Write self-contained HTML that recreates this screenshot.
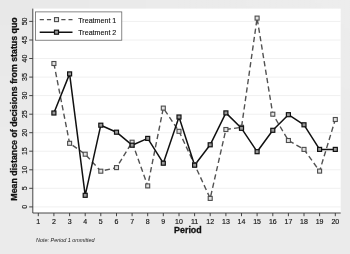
<!DOCTYPE html><html><head><meta charset="utf-8"><title>Chart</title><style>html,body{margin:0;padding:0;background:#ebebeb;}svg{display:block;filter:blur(0.35px)}text{font-family:"Liberation Sans",Arial,sans-serif;}</style></head><body>
<svg width="350" height="254" viewBox="0 0 350 254">
<defs><linearGradient id="gh" x1="0" y1="0" x2="1" y2="0"><stop offset="0" stop-color="#000" stop-opacity="0.012"/><stop offset="0.5" stop-color="#000" stop-opacity="0"/><stop offset="0.5" stop-color="#fff" stop-opacity="0"/><stop offset="1" stop-color="#fff" stop-opacity="0.12"/></linearGradient><linearGradient id="gv" x1="0" y1="0" x2="0" y2="1"><stop offset="0" stop-color="#fff"/><stop offset="0.6" stop-color="#000"/></linearGradient><mask id="mk"><rect x="0" y="0" width="350" height="254" fill="url(#gv)"/></mask></defs>
<rect x="0" y="0" width="350" height="254" fill="#ebebeb"/>
<rect x="0" y="0" width="350" height="254" fill="url(#gh)" mask="url(#mk)"/>
<rect x="32.8" y="8.6" width="307.9" height="204.4" fill="#ffffff"/>
<line x1="32.8" x2="340.7" y1="206.9" y2="206.9" stroke="#f0f0f0" stroke-width="1"/>
<line x1="32.8" x2="340.7" y1="188.3" y2="188.3" stroke="#f0f0f0" stroke-width="1"/>
<line x1="32.8" x2="340.7" y1="169.8" y2="169.8" stroke="#f0f0f0" stroke-width="1"/>
<line x1="32.8" x2="340.7" y1="151.2" y2="151.2" stroke="#f0f0f0" stroke-width="1"/>
<line x1="32.8" x2="340.7" y1="132.7" y2="132.7" stroke="#f0f0f0" stroke-width="1"/>
<line x1="32.8" x2="340.7" y1="114.2" y2="114.2" stroke="#f0f0f0" stroke-width="1"/>
<line x1="32.8" x2="340.7" y1="95.6" y2="95.6" stroke="#f0f0f0" stroke-width="1"/>
<line x1="32.8" x2="340.7" y1="77.1" y2="77.1" stroke="#f0f0f0" stroke-width="1"/>
<line x1="32.8" x2="340.7" y1="58.5" y2="58.5" stroke="#f0f0f0" stroke-width="1"/>
<line x1="32.8" x2="340.7" y1="40.0" y2="40.0" stroke="#f0f0f0" stroke-width="1"/>
<line x1="32.8" x2="340.7" y1="21.4" y2="21.4" stroke="#f0f0f0" stroke-width="1"/>
<line x1="32.8" x2="32.8" y1="8.6" y2="213.0" stroke="#333" stroke-width="0.9"/>
<line x1="32.8" x2="340.7" y1="213.0" y2="213.0" stroke="#333" stroke-width="0.9"/>
<line x1="29.199999999999996" x2="32.8" y1="206.9" y2="206.9" stroke="#333" stroke-width="0.9"/>
<text transform="translate(26.5,206.9) rotate(-90)" text-anchor="middle" font-size="7" fill="#111" stroke="#111" stroke-width="0.15">0</text>
<line x1="29.199999999999996" x2="32.8" y1="188.3" y2="188.3" stroke="#333" stroke-width="0.9"/>
<text transform="translate(26.5,188.3) rotate(-90)" text-anchor="middle" font-size="7" fill="#111" stroke="#111" stroke-width="0.15">5</text>
<line x1="29.199999999999996" x2="32.8" y1="169.8" y2="169.8" stroke="#333" stroke-width="0.9"/>
<text transform="translate(26.5,169.8) rotate(-90)" text-anchor="middle" font-size="7" fill="#111" stroke="#111" stroke-width="0.15">10</text>
<line x1="29.199999999999996" x2="32.8" y1="151.2" y2="151.2" stroke="#333" stroke-width="0.9"/>
<text transform="translate(26.5,151.2) rotate(-90)" text-anchor="middle" font-size="7" fill="#111" stroke="#111" stroke-width="0.15">15</text>
<line x1="29.199999999999996" x2="32.8" y1="132.7" y2="132.7" stroke="#333" stroke-width="0.9"/>
<text transform="translate(26.5,132.7) rotate(-90)" text-anchor="middle" font-size="7" fill="#111" stroke="#111" stroke-width="0.15">20</text>
<line x1="29.199999999999996" x2="32.8" y1="114.2" y2="114.2" stroke="#333" stroke-width="0.9"/>
<text transform="translate(26.5,114.2) rotate(-90)" text-anchor="middle" font-size="7" fill="#111" stroke="#111" stroke-width="0.15">25</text>
<line x1="29.199999999999996" x2="32.8" y1="95.6" y2="95.6" stroke="#333" stroke-width="0.9"/>
<text transform="translate(26.5,95.6) rotate(-90)" text-anchor="middle" font-size="7" fill="#111" stroke="#111" stroke-width="0.15">30</text>
<line x1="29.199999999999996" x2="32.8" y1="77.1" y2="77.1" stroke="#333" stroke-width="0.9"/>
<text transform="translate(26.5,77.1) rotate(-90)" text-anchor="middle" font-size="7" fill="#111" stroke="#111" stroke-width="0.15">35</text>
<line x1="29.199999999999996" x2="32.8" y1="58.5" y2="58.5" stroke="#333" stroke-width="0.9"/>
<text transform="translate(26.5,58.5) rotate(-90)" text-anchor="middle" font-size="7" fill="#111" stroke="#111" stroke-width="0.15">40</text>
<line x1="29.199999999999996" x2="32.8" y1="40.0" y2="40.0" stroke="#333" stroke-width="0.9"/>
<text transform="translate(26.5,40.0) rotate(-90)" text-anchor="middle" font-size="7" fill="#111" stroke="#111" stroke-width="0.15">45</text>
<line x1="29.199999999999996" x2="32.8" y1="21.4" y2="21.4" stroke="#333" stroke-width="0.9"/>
<text transform="translate(26.5,21.4) rotate(-90)" text-anchor="middle" font-size="7" fill="#111" stroke="#111" stroke-width="0.15">50</text>
<line x1="38.3" x2="38.3" y1="213.0" y2="216.2" stroke="#333" stroke-width="0.9"/>
<text x="38.3" y="224.4" text-anchor="middle" font-size="7" fill="#111" stroke="#111" stroke-width="0.15">1</text>
<line x1="53.9" x2="53.9" y1="213.0" y2="216.2" stroke="#333" stroke-width="0.9"/>
<text x="53.9" y="224.4" text-anchor="middle" font-size="7" fill="#111" stroke="#111" stroke-width="0.15">2</text>
<line x1="69.6" x2="69.6" y1="213.0" y2="216.2" stroke="#333" stroke-width="0.9"/>
<text x="69.6" y="224.4" text-anchor="middle" font-size="7" fill="#111" stroke="#111" stroke-width="0.15">3</text>
<line x1="85.2" x2="85.2" y1="213.0" y2="216.2" stroke="#333" stroke-width="0.9"/>
<text x="85.2" y="224.4" text-anchor="middle" font-size="7" fill="#111" stroke="#111" stroke-width="0.15">4</text>
<line x1="100.8" x2="100.8" y1="213.0" y2="216.2" stroke="#333" stroke-width="0.9"/>
<text x="100.8" y="224.4" text-anchor="middle" font-size="7" fill="#111" stroke="#111" stroke-width="0.15">5</text>
<line x1="116.5" x2="116.5" y1="213.0" y2="216.2" stroke="#333" stroke-width="0.9"/>
<text x="116.5" y="224.4" text-anchor="middle" font-size="7" fill="#111" stroke="#111" stroke-width="0.15">6</text>
<line x1="132.1" x2="132.1" y1="213.0" y2="216.2" stroke="#333" stroke-width="0.9"/>
<text x="132.1" y="224.4" text-anchor="middle" font-size="7" fill="#111" stroke="#111" stroke-width="0.15">7</text>
<line x1="147.7" x2="147.7" y1="213.0" y2="216.2" stroke="#333" stroke-width="0.9"/>
<text x="147.7" y="224.4" text-anchor="middle" font-size="7" fill="#111" stroke="#111" stroke-width="0.15">8</text>
<line x1="163.3" x2="163.3" y1="213.0" y2="216.2" stroke="#333" stroke-width="0.9"/>
<text x="163.3" y="224.4" text-anchor="middle" font-size="7" fill="#111" stroke="#111" stroke-width="0.15">9</text>
<line x1="179.0" x2="179.0" y1="213.0" y2="216.2" stroke="#333" stroke-width="0.9"/>
<text x="179.0" y="224.4" text-anchor="middle" font-size="7" fill="#111" stroke="#111" stroke-width="0.15">10</text>
<line x1="194.6" x2="194.6" y1="213.0" y2="216.2" stroke="#333" stroke-width="0.9"/>
<text x="194.6" y="224.4" text-anchor="middle" font-size="7" fill="#111" stroke="#111" stroke-width="0.15">11</text>
<line x1="210.2" x2="210.2" y1="213.0" y2="216.2" stroke="#333" stroke-width="0.9"/>
<text x="210.2" y="224.4" text-anchor="middle" font-size="7" fill="#111" stroke="#111" stroke-width="0.15">12</text>
<line x1="225.9" x2="225.9" y1="213.0" y2="216.2" stroke="#333" stroke-width="0.9"/>
<text x="225.9" y="224.4" text-anchor="middle" font-size="7" fill="#111" stroke="#111" stroke-width="0.15">13</text>
<line x1="241.5" x2="241.5" y1="213.0" y2="216.2" stroke="#333" stroke-width="0.9"/>
<text x="241.5" y="224.4" text-anchor="middle" font-size="7" fill="#111" stroke="#111" stroke-width="0.15">14</text>
<line x1="257.1" x2="257.1" y1="213.0" y2="216.2" stroke="#333" stroke-width="0.9"/>
<text x="257.1" y="224.4" text-anchor="middle" font-size="7" fill="#111" stroke="#111" stroke-width="0.15">15</text>
<line x1="272.8" x2="272.8" y1="213.0" y2="216.2" stroke="#333" stroke-width="0.9"/>
<text x="272.8" y="224.4" text-anchor="middle" font-size="7" fill="#111" stroke="#111" stroke-width="0.15">16</text>
<line x1="288.4" x2="288.4" y1="213.0" y2="216.2" stroke="#333" stroke-width="0.9"/>
<text x="288.4" y="224.4" text-anchor="middle" font-size="7" fill="#111" stroke="#111" stroke-width="0.15">17</text>
<line x1="304.0" x2="304.0" y1="213.0" y2="216.2" stroke="#333" stroke-width="0.9"/>
<text x="304.0" y="224.4" text-anchor="middle" font-size="7" fill="#111" stroke="#111" stroke-width="0.15">18</text>
<line x1="319.6" x2="319.6" y1="213.0" y2="216.2" stroke="#333" stroke-width="0.9"/>
<text x="319.6" y="224.4" text-anchor="middle" font-size="7" fill="#111" stroke="#111" stroke-width="0.15">19</text>
<line x1="335.3" x2="335.3" y1="213.0" y2="216.2" stroke="#333" stroke-width="0.9"/>
<text x="335.3" y="224.4" text-anchor="middle" font-size="7" fill="#111" stroke="#111" stroke-width="0.15">20</text>
<text x="187.9" y="232.7" text-anchor="middle" font-size="8.9" font-weight="bold" fill="#111" stroke="#111" stroke-width="0.3">Period</text>
<text transform="translate(17.0,109) rotate(-90)" text-anchor="middle" font-size="8.8" font-weight="bold" fill="#111" stroke="#111" stroke-width="0.3">Mean distance of decisions from status quo</text>
<text x="36" y="242.3" font-size="5.45" font-style="italic" fill="#222">Note: Period 1 ommitted</text>
<polyline points="53.9,63.5 69.6,143.3 85.2,154.2 100.8,171.2 116.5,167.6 132.1,142.2 147.7,185.9 163.3,108.1 179.0,131.3 194.6,164.6 210.2,198.4 225.9,129.5 241.5,127.3 257.1,18.1 272.8,114.2 288.4,140.5 304.0,149.4 319.6,171.1 335.3,119.5" fill="none" stroke="#525252" stroke-width="1.4" stroke-dasharray="5.3 3.2"/>
<polyline points="53.9,113.0 69.6,73.9 85.2,195.3 100.8,125.2 116.5,132.2 132.1,145.2 147.7,138.4 163.3,163.2 179.0,117.0 194.6,165.2 210.2,144.8 225.9,112.9 241.5,128.3 257.1,151.7 272.8,130.3 288.4,114.7 304.0,124.8 319.6,149.4 335.3,149.4" fill="none" stroke="#111" stroke-width="1.5" stroke-linejoin="round"/>
<rect x="51.9" y="61.5" width="4.0" height="4.0" fill="#e2e2e2" stroke="#4c4c4c" stroke-width="1.1"/>
<rect x="67.6" y="141.3" width="4.0" height="4.0" fill="#e2e2e2" stroke="#4c4c4c" stroke-width="1.1"/>
<rect x="83.2" y="152.2" width="4.0" height="4.0" fill="#e2e2e2" stroke="#4c4c4c" stroke-width="1.1"/>
<rect x="98.8" y="169.2" width="4.0" height="4.0" fill="#e2e2e2" stroke="#4c4c4c" stroke-width="1.1"/>
<rect x="114.5" y="165.6" width="4.0" height="4.0" fill="#e2e2e2" stroke="#4c4c4c" stroke-width="1.1"/>
<rect x="130.1" y="140.2" width="4.0" height="4.0" fill="#e2e2e2" stroke="#4c4c4c" stroke-width="1.1"/>
<rect x="145.7" y="183.9" width="4.0" height="4.0" fill="#e2e2e2" stroke="#4c4c4c" stroke-width="1.1"/>
<rect x="161.3" y="106.1" width="4.0" height="4.0" fill="#e2e2e2" stroke="#4c4c4c" stroke-width="1.1"/>
<rect x="177.0" y="129.3" width="4.0" height="4.0" fill="#e2e2e2" stroke="#4c4c4c" stroke-width="1.1"/>
<rect x="192.6" y="162.6" width="4.0" height="4.0" fill="#e2e2e2" stroke="#4c4c4c" stroke-width="1.1"/>
<rect x="208.2" y="196.4" width="4.0" height="4.0" fill="#e2e2e2" stroke="#4c4c4c" stroke-width="1.1"/>
<rect x="223.9" y="127.5" width="4.0" height="4.0" fill="#e2e2e2" stroke="#4c4c4c" stroke-width="1.1"/>
<rect x="239.5" y="125.3" width="4.0" height="4.0" fill="#e2e2e2" stroke="#4c4c4c" stroke-width="1.1"/>
<rect x="255.1" y="16.1" width="4.0" height="4.0" fill="#e2e2e2" stroke="#4c4c4c" stroke-width="1.1"/>
<rect x="270.8" y="112.2" width="4.0" height="4.0" fill="#e2e2e2" stroke="#4c4c4c" stroke-width="1.1"/>
<rect x="286.4" y="138.5" width="4.0" height="4.0" fill="#e2e2e2" stroke="#4c4c4c" stroke-width="1.1"/>
<rect x="302.0" y="147.4" width="4.0" height="4.0" fill="#e2e2e2" stroke="#4c4c4c" stroke-width="1.1"/>
<rect x="317.6" y="169.1" width="4.0" height="4.0" fill="#e2e2e2" stroke="#4c4c4c" stroke-width="1.1"/>
<rect x="333.3" y="117.5" width="4.0" height="4.0" fill="#e2e2e2" stroke="#4c4c4c" stroke-width="1.1"/>
<rect x="51.9" y="111.0" width="4.0" height="4.0" fill="#9a9a9a" stroke="#111" stroke-width="1.2"/>
<rect x="67.6" y="71.9" width="4.0" height="4.0" fill="#9a9a9a" stroke="#111" stroke-width="1.2"/>
<rect x="83.2" y="193.3" width="4.0" height="4.0" fill="#9a9a9a" stroke="#111" stroke-width="1.2"/>
<rect x="98.8" y="123.2" width="4.0" height="4.0" fill="#9a9a9a" stroke="#111" stroke-width="1.2"/>
<rect x="114.5" y="130.2" width="4.0" height="4.0" fill="#9a9a9a" stroke="#111" stroke-width="1.2"/>
<rect x="130.1" y="143.2" width="4.0" height="4.0" fill="#9a9a9a" stroke="#111" stroke-width="1.2"/>
<rect x="145.7" y="136.4" width="4.0" height="4.0" fill="#9a9a9a" stroke="#111" stroke-width="1.2"/>
<rect x="161.3" y="161.2" width="4.0" height="4.0" fill="#9a9a9a" stroke="#111" stroke-width="1.2"/>
<rect x="177.0" y="115.0" width="4.0" height="4.0" fill="#9a9a9a" stroke="#111" stroke-width="1.2"/>
<rect x="192.6" y="163.2" width="4.0" height="4.0" fill="#9a9a9a" stroke="#111" stroke-width="1.2"/>
<rect x="208.2" y="142.8" width="4.0" height="4.0" fill="#9a9a9a" stroke="#111" stroke-width="1.2"/>
<rect x="223.9" y="110.9" width="4.0" height="4.0" fill="#9a9a9a" stroke="#111" stroke-width="1.2"/>
<rect x="239.5" y="126.3" width="4.0" height="4.0" fill="#9a9a9a" stroke="#111" stroke-width="1.2"/>
<rect x="255.1" y="149.7" width="4.0" height="4.0" fill="#9a9a9a" stroke="#111" stroke-width="1.2"/>
<rect x="270.8" y="128.3" width="4.0" height="4.0" fill="#9a9a9a" stroke="#111" stroke-width="1.2"/>
<rect x="286.4" y="112.7" width="4.0" height="4.0" fill="#9a9a9a" stroke="#111" stroke-width="1.2"/>
<rect x="302.0" y="122.8" width="4.0" height="4.0" fill="#9a9a9a" stroke="#111" stroke-width="1.2"/>
<rect x="317.6" y="147.4" width="4.0" height="4.0" fill="#9a9a9a" stroke="#111" stroke-width="1.2"/>
<rect x="333.3" y="147.4" width="4.0" height="4.0" fill="#9a9a9a" stroke="#111" stroke-width="1.2"/>
<rect x="35.6" y="11.9" width="86.2" height="28.3" fill="#ffffff" stroke="#555" stroke-width="0.7"/>
<line x1="39.7" x2="72.5" y1="19.6" y2="19.6" stroke="#525252" stroke-width="1.4" stroke-dasharray="4.2 3"/>
<rect x="54.5" y="17.6" width="4.0" height="4.0" fill="#e2e2e2" stroke="#4c4c4c" stroke-width="1.1"/>
<line x1="39.7" x2="72.5" y1="32.2" y2="32.2" stroke="#111" stroke-width="1.5"/>
<rect x="54.5" y="30.2" width="4.0" height="4.0" fill="#9a9a9a" stroke="#111" stroke-width="1.2"/>
<text x="78.3" y="22.5" font-size="7.1" fill="#111" stroke="#111" stroke-width="0.12">Treatment 1</text>
<text x="78.3" y="35.0" font-size="7.1" fill="#111" stroke="#111" stroke-width="0.12">Treatment 2</text>
</svg></body></html>
